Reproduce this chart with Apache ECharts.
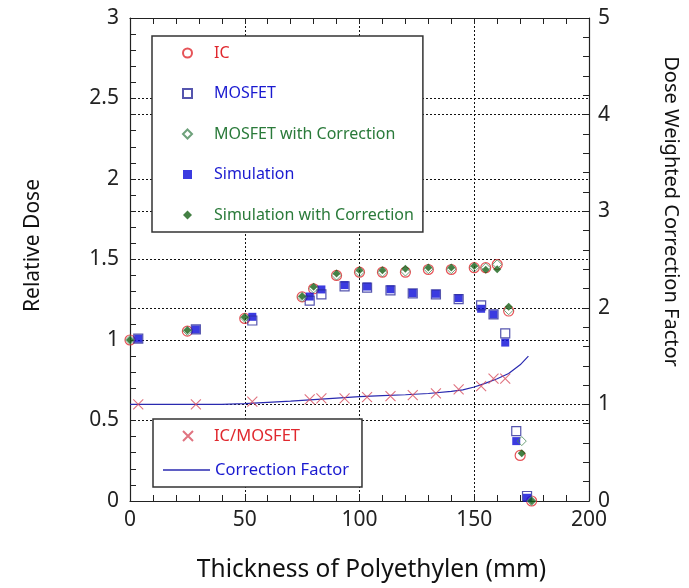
<!DOCTYPE html>
<html>
<head>
<meta charset="utf-8">
<script src="https://cdn.jsdelivr.net/npm/echarts@6/dist/echarts.min.js"></script>
<style>html,body{margin:0;padding:0;background:#fff;}#c{width:689px;height:588px;}</style>
</head>
<body>
<div id="c"></div>
<script>
// Thickness (mm) positions
var icX   = [0, 25, 50, 75, 80, 90, 100, 110, 120, 130, 140, 150, 155, 160, 165, 170, 175];
var icY   = [1.0, 1.055, 1.134, 1.268, 1.318, 1.401, 1.421, 1.421, 1.421, 1.438, 1.438, 1.449, 1.449, 1.469, 1.18, 0.283, 0.0];

var mosX  = [3.6, 28.7, 53.3, 78.3, 83.4, 93.5, 103.3, 113.5, 123.2, 133.3, 143.2, 153, 158.4, 163.5, 168.3, 173];
var mosY  = [1.008, 1.066, 1.121, 1.245, 1.283, 1.333, 1.325, 1.308, 1.289, 1.283, 1.254, 1.215, 1.159, 1.041, 0.434, 0.031];
var simY  = [1.008, 1.066, 1.144, 1.27, 1.314, 1.341, 1.332, 1.315, 1.292, 1.287, 1.26, 1.194, 1.159, 0.984, 0.372, 0.02];

var mcX   = [0, 25, 50, 75, 80, 90, 100, 110, 120, 130, 140, 150, 155, 160, 165, 170.7, 175];
var mcY   = [1.0, 1.057, 1.138, 1.266, 1.32, 1.40, 1.42, 1.42, 1.425, 1.44, 1.44, 1.45, 1.45, 1.47, 1.185, 0.372, 0.0];
var scY   = [1.0, 1.06, 1.142, 1.272, 1.33, 1.413, 1.434, 1.434, 1.442, 1.45, 1.45, 1.459, 1.436, 1.44, 1.206, 0.296, 0.0];

var ratioY = [1.0, 1.0, 1.028, 1.052, 1.062, 1.062, 1.076, 1.086, 1.097, 1.114, 1.155, 1.19, 1.266, 1.266];

var cfX = [0, 10, 20, 30, 40, 50, 60, 70, 80, 90, 100, 110, 120, 130, 140, 145, 150, 155, 160, 165, 170, 173.6];
var cfY = [1.0, 1.0, 1.0, 1.0, 1.0, 1.007, 1.02, 1.034, 1.05, 1.065, 1.08, 1.09, 1.10, 1.113, 1.135, 1.15, 1.18, 1.22, 1.265, 1.32, 1.41, 1.5];

var xTicks = [0, 50, 100, 150, 200];

function pairs(xs, ys) { return ys.map(function (v, i) { return [xs[i], v]; }); }

var RED = '#e0282e', BLUE = '#1a1ad0', DBLUE = '#2a2a9a', GREEN = '#2a7a3a', DGREEN = '#156015', LINEBLUE = '#2a2ab0';
var FONT = 'Noto Sans';
var SQ = 'path://M0,0H10V10H0Z';
var DIA = 'path://M5,0L10,5L5,10L0,5Z';

var chart = echarts.init(document.getElementById('c'), null, {renderer: 'canvas'});
var axisLineStyle = {color: '#222', width: 1.2};
var splitStyle = {type: [2, 2], color: '#111', width: 1};
var legendText = {fontFamily: FONT, fontSize: 16, lineHeight: 20, padding: [0, 0, 0, 17]};

chart.setOption({
  animation: false,
  backgroundColor: '#fff',
  textStyle: {fontFamily: FONT},
  grid: {left: 130, right: 99, top: 18, bottom: 86},
  legend: [{
    orient: 'vertical', left: 152, top: 36,
    padding: [7, 9, 7, 30], itemGap: 20.5, itemWidth: 9, itemHeight: 9,
    borderColor: '#333', borderWidth: 1.5, backgroundColor: '#fff',
    textStyle: legendText,
    data: [
      {name: 'IC', textStyle: {color: RED}},
      {name: 'MOSFET', icon: SQ, textStyle: {color: BLUE}},
      {name: 'MOSFET with Correction', icon: DIA, textStyle: {color: GREEN}},
      {name: 'Simulation', icon: SQ, itemStyle: {borderWidth: 0}, textStyle: {color: BLUE}},
      {name: 'Simulation with Correction', icon: DIA, itemStyle: {borderWidth: 0}, textStyle: {color: GREEN}}
    ]
  }, {
    orient: 'vertical', left: 153, top: 419,
    padding: [7, 62, 41, 29], itemGap: 14, itemWidth: 10, itemHeight: 10,
    borderColor: '#333', borderWidth: 1.5, backgroundColor: '#fff',
    textStyle: {fontFamily: FONT, fontSize: 16.5, lineHeight: 20, padding: [0, 0, 0, 16]},
    data: [
      {name: 'IC/MOSFET', textStyle: {color: RED}}
    ]
  }, {
    orient: 'vertical', left: 163, top: 460,
    padding: 0, itemWidth: 47, itemHeight: 1.4,
    textStyle: {fontFamily: FONT, fontSize: 16.5, lineHeight: 20},
    data: [
      {name: 'Correction Factor', icon: 'rect', itemStyle: {color: LINEBLUE}, textStyle: {color: BLUE}}
    ]
  }],
  xAxis: [{
    type: 'value', min: xTicks[0], max: xTicks[xTicks.length - 1], interval: 50,
    name: 'Thickness of Polyethylen (mm)', nameLocation: 'middle', nameGap: 57,
    nameTextStyle: {fontFamily: FONT, fontSize: 24.5, color: '#111', padding: [0, 0, 0, 24]},
    axisLine: {show: true, onZero: false, lineStyle: axisLineStyle},
    axisTick: {show: true, inside: true, length: 6, lineStyle: {color: '#222'}},
    minorTick: {show: true, splitNumber: 5, length: 6, lineStyle: {color: '#222'}},
    axisLabel: {fontFamily: FONT, fontSize: 21, color: '#222', margin: 9},
    splitLine: {show: true, lineStyle: splitStyle}
  }, {
    type: 'value', position: 'top', min: 0, max: 200, interval: 50,
    axisLine: {show: true, onZero: false, lineStyle: axisLineStyle},
    axisTick: {show: true, inside: true, length: 6, lineStyle: {color: '#222'}},
    minorTick: {show: true, splitNumber: 5, length: 6, lineStyle: {color: '#222'}},
    axisLabel: {show: false}, splitLine: {show: false}
  }],
  yAxis: [{
    type: 'value', min: 0, max: 3, interval: 0.5,
    name: 'Relative Dose', nameLocation: 'middle', nameGap: 86,
    nameTextStyle: {fontFamily: FONT, fontSize: 21, color: '#111', padding: [0, 0, 0, 28]},
    axisLine: {show: true, onZero: false, lineStyle: axisLineStyle},
    axisTick: {show: true, inside: true, length: 6, lineStyle: {color: '#222'}},
    minorTick: {show: true, splitNumber: 5, length: 6, lineStyle: {color: '#222'}},
    axisLabel: {fontFamily: FONT, fontSize: 21, color: '#222', margin: 11},
    splitLine: {show: true, lineStyle: splitStyle}
  }, {
    type: 'value', min: 0, max: 5, interval: 1, position: 'right',
    name: 'Dose Weighted Correction Factor', nameLocation: 'middle', nameGap: 72, nameRotate: -90,
    nameTextStyle: {fontFamily: FONT, fontSize: 20, color: '#111', padding: [0, 96, 0, 0]},
    axisLine: {show: true, onZero: false, lineStyle: axisLineStyle},
    axisTick: {show: true, inside: true, length: 6, lineStyle: {color: '#222'}},
    minorTick: {show: true, splitNumber: 5, length: 6, lineStyle: {color: '#222'}},
    axisLabel: {fontFamily: FONT, fontSize: 21, color: '#222', margin: 9},
    splitLine: {show: true, lineStyle: splitStyle}
  }],
  series: [
    {name: 'IC', type: 'scatter', data: pairs(icX, icY), symbol: 'circle', symbolSize: 10,
     itemStyle: {color: 'transparent', borderColor: RED, borderWidth: 1.2}, z: 3},
    {name: 'Simulation', type: 'scatter', data: pairs(mosX, simY), symbol: 'rect', symbolSize: 8,
     itemStyle: {color: '#0a0ad8'}, z: 4},
    {name: 'MOSFET', type: 'scatter', data: pairs(mosX, mosY), symbol: 'rect', symbolSize: 9,
     itemStyle: {color: 'transparent', borderColor: DBLUE, borderWidth: 1.2}, z: 5},
    {name: 'Simulation with Correction', type: 'scatter', data: pairs(mcX, scY), symbol: 'diamond', symbolSize: 8,
     itemStyle: {color: DGREEN}, z: 6},
    {name: 'MOSFET with Correction', type: 'scatter', data: pairs(mcX, mcY), symbol: 'diamond', symbolSize: 9,
     itemStyle: {color: 'transparent', borderColor: '#4a8a5a', borderWidth: 1}, z: 7},
    {name: 'IC/MOSFET', type: 'scatter', yAxisIndex: 1, data: pairs(mosX.slice(0, ratioY.length), ratioY),
     symbol: 'path://M0,0L10,10M0,10L10,0', symbolSize: 10,
     itemStyle: {color: 'transparent', borderColor: '#d85060', borderWidth: 1.1}, z: 8},
    {name: 'Correction Factor', type: 'line', yAxisIndex: 1, data: pairs(cfX, cfY), symbol: 'none',
     color: LINEBLUE, itemStyle: {color: LINEBLUE},
     lineStyle: {color: LINEBLUE, width: 1.2}, z: 2}
  ]
});
</script>
</body>
</html>
